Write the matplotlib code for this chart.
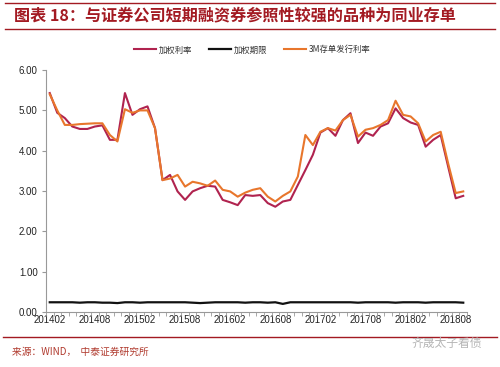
import matplotlib
matplotlib.use("Agg")
import matplotlib.pyplot as plt
import numpy as np

plt.rcParams['font.family'] = ['Liberation Sans', 'Noto Sans CJK SC', 'DejaVu Sans']

# ---- data (monthly, 201402 .. 201809) ----
start_year, start_month, n_months = 2014, 2, 56
months = [f"{start_year + (start_month - 1 + k) // 12}{(start_month - 1 + k) % 12 + 1:02d}" for k in range(n_months)]

weighted_rate = [5.43, 4.94, 4.81, 4.60, 4.54, 4.54, 4.60, 4.63, 4.27, 4.27,
                 5.43, 4.89, 5.03, 5.10, 4.56, 3.27, 3.40, 2.99, 2.78, 2.99,
                 3.07, 3.13, 3.11, 2.78, 2.72, 2.65, 2.90, 2.88, 2.90, 2.70,
                 2.61, 2.74, 2.78, 3.15, 3.52, 3.90, 4.45, 4.56, 4.37, 4.76,
                 4.93, 4.19, 4.45, 4.37, 4.60, 4.68, 5.05, 4.81, 4.70, 4.64,
                 4.10, 4.27, 4.39, 3.60, 2.82, 2.88]
weighted_term = [0.24, 0.24, 0.24, 0.24, 0.23, 0.24, 0.24, 0.23, 0.23, 0.22,
                 0.24, 0.24, 0.23, 0.24, 0.24, 0.24, 0.24, 0.24, 0.24, 0.23,
                 0.22, 0.23, 0.24, 0.24, 0.24, 0.24, 0.23, 0.24, 0.24, 0.23,
                 0.24, 0.20, 0.24, 0.24, 0.24, 0.24, 0.24, 0.24, 0.24, 0.24,
                 0.24, 0.23, 0.24, 0.24, 0.24, 0.24, 0.23, 0.24, 0.24, 0.24,
                 0.23, 0.24, 0.24, 0.24, 0.24, 0.23]
cd_3m_rate = [5.40, 5.00, 4.64, 4.64, 4.66, 4.67, 4.68, 4.68, 4.39, 4.23,
              5.03, 4.94, 5.00, 5.00, 4.56, 3.27, 3.31, 3.40, 3.11, 3.23,
              3.19, 3.13, 3.26, 3.03, 2.99, 2.86, 2.96, 3.03, 3.07, 2.86,
              2.74, 2.88, 2.99, 3.36, 4.39, 4.14, 4.47, 4.56, 4.50, 4.76,
              4.89, 4.35, 4.52, 4.56, 4.64, 4.76, 5.24, 4.89, 4.85, 4.68,
              4.23, 4.39, 4.47, 3.68, 2.95, 2.99]

series_names = ["加权利率", "加权期限", "3M存单发行利率"]
y_ticks = [0, 1, 2, 3, 4, 5, 6]

title = "图表 18：与证券公司短期融资券参照性较强的品种为同业存单"
source = "来源：WIND，  中泰证券研究所"
watermark = "齐晟太子看债"

# ---- figure ----
fig = plt.figure(figsize=(5.0, 3.67), dpi=100)
ax = fig.add_axes([0.092, 0.150, 0.842, 0.659])

x = np.arange(n_months)
ax.plot(x, weighted_rate, color="#b0234f", lw=1.5, label=series_names[0])
ax.plot(x, weighted_term, color="#111111", lw=1.6, label=series_names[1])
ax.plot(x, cd_3m_rate, color="#e8762c", lw=1.5, label=series_names[2])

ax.set_xlim(-0.5, n_months - 0.5)
ax.set_ylim(0, 6)
ax.set_yticks(y_ticks)
ax.set_yticklabels([f"{v:.2f}" for v in y_ticks], fontsize=7, color="#222222")
ax.set_xticks(x[::6])
ax.set_xticklabels(months[::6], fontsize=7, color="#222222")
ax.set_xticks(np.arange(n_months + 1) - 0.5, minor=True)
ax.tick_params(axis='x', which='major', length=0, pad=2)
ax.tick_params(axis='x', which='minor', length=3, color="#999999", direction='out')
ax.tick_params(axis='y', length=3, color="#999999", pad=3)

for s in ["top", "right"]:
    ax.spines[s].set_visible(False)
for s in ["left", "bottom"]:
    ax.spines[s].set_color("#999999")
    ax.spines[s].set_linewidth(0.8)

leg = fig.legend(loc="center", bbox_to_anchor=(0.505, 0.864), ncol=3, frameon=False,
                 prop={'family': ['Noto Sans CJK SC', 'DejaVu Sans'], 'size': 6},
                 handlelength=2.6, columnspacing=2.0, handletextpad=0.4)
for t in leg.get_texts():
    t.set_color("#333333")

# ---- title / footer decorations ----
red = "#a31a22"
fig.add_artist(plt.Line2D([0.01, 0.99], [1 - 3 / 367, 1 - 3 / 367], color=red, lw=1.0))
fig.add_artist(plt.Line2D([0.01, 0.99], [1 - 29 / 367, 1 - 29 / 367], color=red, lw=1.0))
fig.text(0.028, 1 - 15.5 / 367, title, fontsize=11.6, fontweight='bold', color=red,
         family=['Noto Sans CJK SC', 'DejaVu Sans'], va='center', ha='left')

fig.add_artist(plt.Line2D([0.006, 0.994], [1 - 337 / 367, 1 - 337 / 367], color=red, lw=1.0))
fig.text(0.024, 1 - 352 / 367, source, fontsize=7, color="#b03a2e",
         family=['Noto Sans CJK SC', 'DejaVu Sans'], va='center', ha='left')
fig.text(0.824, 1 - 343 / 367, watermark, fontsize=8.5, color="#b5b5b5",
         family=['Noto Sans CJK SC', 'DejaVu Sans'], va='center', ha='left')

fig.savefig("out.png", dpi=100, facecolor="white")
